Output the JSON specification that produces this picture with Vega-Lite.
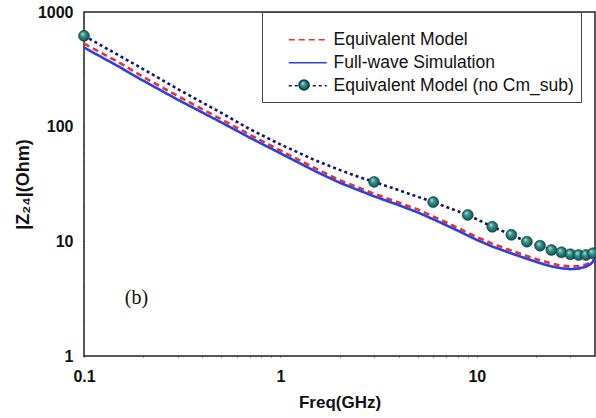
{
  "$schema": "https://vega.github.io/schema/vega-lite/v6.json",
  "width": 511,
  "height": 344,
  "autosize": {"type": "none"},
  "padding": {"left": 84, "top": 12, "right": 1, "bottom": 62},
  "background": "white",
  "config": {
    "view": {"stroke": "#222", "strokeWidth": 1.5},
    "font": "Liberation Sans"
  },
  "datasets": {
    "curves": [
      {"series": "Equivalent Model", "f": 0.1, "z": 530, "m": 0},
      {"series": "Equivalent Model", "f": 0.15, "z": 365, "m": 0},
      {"series": "Equivalent Model", "f": 0.2, "z": 272, "m": 0},
      {"series": "Equivalent Model", "f": 0.3, "z": 185, "m": 0},
      {"series": "Equivalent Model", "f": 0.5, "z": 116, "m": 0},
      {"series": "Equivalent Model", "f": 0.7, "z": 85, "m": 0},
      {"series": "Equivalent Model", "f": 1, "z": 62, "m": 0},
      {"series": "Equivalent Model", "f": 1.5, "z": 43.5, "m": 0},
      {"series": "Equivalent Model", "f": 2, "z": 34.2, "m": 0},
      {"series": "Equivalent Model", "f": 3, "z": 26, "m": 0},
      {"series": "Equivalent Model", "f": 4, "z": 21.8, "m": 0},
      {"series": "Equivalent Model", "f": 5, "z": 19.0, "m": 0},
      {"series": "Equivalent Model", "f": 6, "z": 16.5, "m": 0},
      {"series": "Equivalent Model", "f": 7, "z": 14.6, "m": 0},
      {"series": "Equivalent Model", "f": 8, "z": 13.1, "m": 0},
      {"series": "Equivalent Model", "f": 10, "z": 10.9, "m": 0},
      {"series": "Equivalent Model", "f": 12, "z": 9.55, "m": 0},
      {"series": "Equivalent Model", "f": 15, "z": 8.3, "m": 0},
      {"series": "Equivalent Model", "f": 18, "z": 7.45, "m": 0},
      {"series": "Equivalent Model", "f": 21, "z": 6.85, "m": 0},
      {"series": "Equivalent Model", "f": 24, "z": 6.4, "m": 0},
      {"series": "Equivalent Model", "f": 27, "z": 6.15, "m": 0},
      {"series": "Equivalent Model", "f": 30, "z": 6.03, "m": 0},
      {"series": "Equivalent Model", "f": 33, "z": 6.08, "m": 0},
      {"series": "Equivalent Model", "f": 36, "z": 6.28, "m": 0},
      {"series": "Equivalent Model", "f": 38, "z": 6.55, "m": 0},
      {"series": "Equivalent Model", "f": 40, "z": 7.0, "m": 0},
      {"series": "Full-wave Simulation", "f": 0.1, "z": 490, "m": 0},
      {"series": "Full-wave Simulation", "f": 0.15, "z": 335, "m": 0},
      {"series": "Full-wave Simulation", "f": 0.2, "z": 252, "m": 0},
      {"series": "Full-wave Simulation", "f": 0.3, "z": 172, "m": 0},
      {"series": "Full-wave Simulation", "f": 0.5, "z": 109, "m": 0},
      {"series": "Full-wave Simulation", "f": 0.7, "z": 80, "m": 0},
      {"series": "Full-wave Simulation", "f": 1, "z": 58.6, "m": 0},
      {"series": "Full-wave Simulation", "f": 1.5, "z": 41, "m": 0},
      {"series": "Full-wave Simulation", "f": 2, "z": 32.5, "m": 0},
      {"series": "Full-wave Simulation", "f": 3, "z": 24.7, "m": 0},
      {"series": "Full-wave Simulation", "f": 4, "z": 20.7, "m": 0},
      {"series": "Full-wave Simulation", "f": 5, "z": 17.9, "m": 0},
      {"series": "Full-wave Simulation", "f": 6, "z": 15.6, "m": 0},
      {"series": "Full-wave Simulation", "f": 7, "z": 13.8, "m": 0},
      {"series": "Full-wave Simulation", "f": 8, "z": 12.4, "m": 0},
      {"series": "Full-wave Simulation", "f": 10, "z": 10.3, "m": 0},
      {"series": "Full-wave Simulation", "f": 12, "z": 9.0, "m": 0},
      {"series": "Full-wave Simulation", "f": 15, "z": 7.85, "m": 0},
      {"series": "Full-wave Simulation", "f": 18, "z": 7.05, "m": 0},
      {"series": "Full-wave Simulation", "f": 21, "z": 6.45, "m": 0},
      {"series": "Full-wave Simulation", "f": 24, "z": 6.05, "m": 0},
      {"series": "Full-wave Simulation", "f": 27, "z": 5.82, "m": 0},
      {"series": "Full-wave Simulation", "f": 30, "z": 5.72, "m": 0},
      {"series": "Full-wave Simulation", "f": 33, "z": 5.78, "m": 0},
      {"series": "Full-wave Simulation", "f": 36, "z": 6.0, "m": 0},
      {"series": "Full-wave Simulation", "f": 38, "z": 6.35, "m": 0},
      {"series": "Full-wave Simulation", "f": 40, "z": 6.9, "m": 0},
      {"series": "Equivalent Model (no Cm_sub)", "f": 0.1, "z": 620, "m": 1},
      {"series": "Equivalent Model (no Cm_sub)", "f": 0.15, "z": 420, "m": 0},
      {"series": "Equivalent Model (no Cm_sub)", "f": 0.2, "z": 318, "m": 0},
      {"series": "Equivalent Model (no Cm_sub)", "f": 0.3, "z": 213, "m": 0},
      {"series": "Equivalent Model (no Cm_sub)", "f": 0.5, "z": 132, "m": 0},
      {"series": "Equivalent Model (no Cm_sub)", "f": 0.7, "z": 95, "m": 0},
      {"series": "Equivalent Model (no Cm_sub)", "f": 1, "z": 70, "m": 0},
      {"series": "Equivalent Model (no Cm_sub)", "f": 1.5, "z": 51, "m": 0},
      {"series": "Equivalent Model (no Cm_sub)", "f": 2, "z": 42, "m": 0},
      {"series": "Equivalent Model (no Cm_sub)", "f": 2.5, "z": 36.5, "m": 0},
      {"series": "Equivalent Model (no Cm_sub)", "f": 3, "z": 33, "m": 1},
      {"series": "Equivalent Model (no Cm_sub)", "f": 4, "z": 28, "m": 0},
      {"series": "Equivalent Model (no Cm_sub)", "f": 5, "z": 24.5, "m": 0},
      {"series": "Equivalent Model (no Cm_sub)", "f": 6, "z": 22, "m": 1},
      {"series": "Equivalent Model (no Cm_sub)", "f": 9, "z": 17, "m": 1},
      {"series": "Equivalent Model (no Cm_sub)", "f": 12, "z": 13.4, "m": 1},
      {"series": "Equivalent Model (no Cm_sub)", "f": 15, "z": 11.4, "m": 1},
      {"series": "Equivalent Model (no Cm_sub)", "f": 18, "z": 9.93, "m": 1},
      {"series": "Equivalent Model (no Cm_sub)", "f": 21, "z": 9.16, "m": 1},
      {"series": "Equivalent Model (no Cm_sub)", "f": 24, "z": 8.4, "m": 1},
      {"series": "Equivalent Model (no Cm_sub)", "f": 27, "z": 8.02, "m": 1},
      {"series": "Equivalent Model (no Cm_sub)", "f": 30, "z": 7.71, "m": 1},
      {"series": "Equivalent Model (no Cm_sub)", "f": 33, "z": 7.6, "m": 1},
      {"series": "Equivalent Model (no Cm_sub)", "f": 36, "z": 7.6, "m": 1},
      {"series": "Equivalent Model (no Cm_sub)", "f": 39, "z": 7.87, "m": 1},
      {"series": "Equivalent Model (no Cm_sub)", "f": 40, "z": 8.0, "m": 0}
    ],
    "notes": [
      {"f": 0.185, "z": 3.2, "label": "(b)"}
    ]
  },
  "encoding": {
    "x": {
      "field": "f",
      "type": "quantitative",
      "scale": {"type": "log", "domain": [0.1, 40], "nice": false},
      "axis": {
        "title": "Freq(GHz)",
        "titleFont": "Liberation Sans",
        "titleFontSize": 17,
        "titleFontWeight": "bold",
        "titleColor": "#111",
        "titlePadding": 10,
        "values": [0.1, 0.2, 0.3, 0.4, 0.5, 0.6, 0.7, 0.8, 0.9, 1, 2, 3, 4, 5, 6, 7, 8, 9, 10, 20, 30],
        "labelExpr": "datum.value == 0.1 ? '0.1' : datum.value == 1 ? '1' : datum.value == 10 ? '10' : ''",
        "labelFont": "Liberation Sans",
        "labelFontSize": 16,
        "labelFontWeight": "bold",
        "labelColor": "#111",
        "labelPadding": 11,
        "labelFlush": false,
        "labelOverlap": false,
        "grid": false,
        "domain": false,
        "tickSize": 1,
        "tickColor": "#333",
        "tickWidth": 1,
        "encode": {
          "ticks": {
            "update": {
              "y2": {"signal": "indexof([0.1, 1, 10], datum.value) >= 0 ? -8 : -4"}
            }
          }
        }
      }
    },
    "y": {
      "field": "z",
      "type": "quantitative",
      "scale": {"type": "log", "domain": [1, 1000], "nice": false},
      "axis": {
        "title": "|Z₂₄|(Ohm)",
        "titleFont": "Liberation Sans",
        "titleFontSize": 18,
        "titleFontWeight": "bold",
        "titleColor": "#111",
        "titlePadding": 5,
        "values": [1, 2, 3, 4, 5, 6, 7, 8, 9, 10, 20, 30, 40, 50, 60, 70, 80, 90, 100, 200, 300, 400, 500, 600, 700, 800, 900, 1000],
        "labelExpr": "indexof([1, 10, 100, 1000], datum.value) >= 0 ? format(datum.value, 'd') : ''",
        "labelFont": "Liberation Sans",
        "labelFontSize": 16,
        "labelFontWeight": "bold",
        "labelColor": "#111",
        "labelPadding": 10,
        "labelFlush": false,
        "labelOverlap": false,
        "grid": false,
        "domain": false,
        "tickSize": 1,
        "tickColor": "#333",
        "tickWidth": 1,
        "encode": {
          "ticks": {
            "update": {
              "x2": {"signal": "indexof([1, 10, 100, 1000], datum.value) >= 0 ? 7 : 5"}
            }
          }
        }
      }
    }
  },
  "layer": [
    {
      "data": {"name": "curves"},
      "mark": {"type": "line", "strokeWidth": 2.6, "clip": false},
      "encoding": {
        "color": {
          "field": "series",
          "type": "nominal",
          "scale": {
            "domain": ["Equivalent Model", "Full-wave Simulation", "Equivalent Model (no Cm_sub)"],
            "range": ["#e8322a", "#2a3fe6", "#12127a"]
          },
          "legend": {
            "orient": "none",
            "legendX": 178,
            "legendY": 0,
            "title": " ",
            "titleFontSize": 10,
            "titlePadding": 2,
            "padding": 7,
            "strokeColor": "#444",
            "symbolType": "M2.2,0H9.8",
            "symbolSize": 100,
            "symbolStrokeWidth": 1.3,
            "labelFont": "Liberation Sans",
            "labelFontSize": 17.5,
            "labelColor": "#111",
            "labelLimit": 400,
            "labelOffset": 47,
            "rowPadding": 4
          }
        },
        "strokeDash": {
          "field": "series",
          "type": "nominal",
          "scale": {
            "domain": ["Equivalent Model", "Full-wave Simulation", "Equivalent Model (no Cm_sub)"],
            "range": [[6, 4], [1, 0], [3, 3]]
          },
          "legend": {
            "orient": "none",
            "legendX": 178,
            "legendY": 0,
            "title": " ",
            "titleFontSize": 10,
            "titlePadding": 2,
            "padding": 7,
            "strokeColor": "#444",
            "symbolType": "M2.2,0H9.8",
            "symbolSize": 100,
            "symbolStrokeWidth": 1.3,
            "labelFont": "Liberation Sans",
            "labelFontSize": 17.5,
            "labelColor": "#111",
            "labelLimit": 400,
            "labelOffset": 47,
            "rowPadding": 4
          }
        }
      }
    },
    {
      "data": {"name": "curves"},
      "transform": [{"filter": "datum.m == 1"}],
      "mark": {
        "type": "point",
        "filled": true,
        "size": 120,
        "opacity": 1,
        "clip": false,
        "fill": {
          "gradient": "radial",
          "x1": 0.35, "y1": 0.3, "r1": 0,
          "x2": 0.5, "y2": 0.5, "r2": 0.55,
          "stops": [
            {"offset": 0, "color": "#c8ece8"},
            {"offset": 0.35, "color": "#3c9a94"},
            {"offset": 0.8, "color": "#17605c"},
            {"offset": 1, "color": "#0d4240"}
          ]
        },
        "stroke": "#0a3b3b",
        "strokeWidth": 0.6
      },
      "encoding": {
        "shape": {
          "field": "series",
          "type": "nominal",
          "scale": {"range": ["circle"]},
          "legend": {
            "orient": "none",
            "legendX": 214,
            "legendY": 67,
            "title": null,
            "padding": 0,
            "symbolSize": 100,
            "labelExpr": "''",
            "labelFontSize": 10,
            "encode": {
              "symbols": {
                "update": {
                  "fill": {"value": {
                    "gradient": "radial",
                    "x1": 0.35, "y1": 0.3, "r1": 0,
                    "x2": 0.5, "y2": 0.5, "r2": 0.55,
                    "stops": [
                      {"offset": 0, "color": "#c8ece8"},
                      {"offset": 0.35, "color": "#3c9a94"},
                      {"offset": 0.8, "color": "#17605c"},
                      {"offset": 1, "color": "#0d4240"}
                    ]
                  }},
                  "stroke": {"value": "#0a3b3b"},
                  "strokeWidth": {"value": 0.6},
                  "opacity": {"value": 1}
                }
              }
            }
          }
        }
      }
    },
    {
      "data": {"name": "notes"},
      "mark": {"type": "text", "font": "Liberation Serif", "fontSize": 20, "color": "#111", "align": "center", "baseline": "middle"},
      "encoding": {
        "text": {"field": "label"}
      }
    }
  ]
}
